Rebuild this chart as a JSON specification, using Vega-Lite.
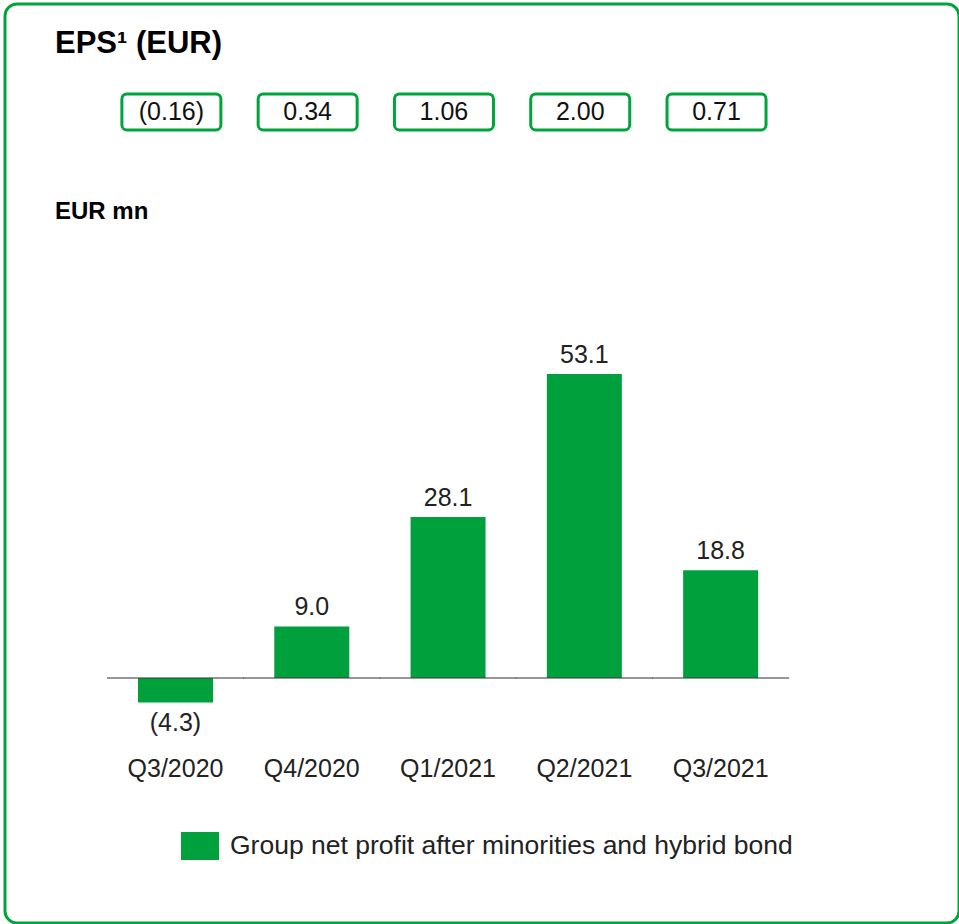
{
  "$schema": "https://vega.github.io/schema/vega-lite/v6.json",
  "autosize": {"type": "fit", "contains": "padding"},
  "width": 959,
  "height": 924,
  "padding": {"left": 5, "top": 4, "right": 0, "bottom": 1},
  "background": "white",
  "title": {
    "text": "EPS¹ (EUR)",
    "subtitle": "EUR mn",
    "anchor": "start",
    "frame": "group",
    "offset": -221,
    "dx": 50,
    "fontSize": 31,
    "fontWeight": "bold",
    "font": "Liberation Sans",
    "color": "#000000",
    "subtitleFont": "Liberation Sans",
    "subtitleFontSize": 24,
    "subtitleFontWeight": "bold",
    "subtitleColor": "#000000",
    "subtitlePadding": 140
  },
  "data": {
    "values": [
      {"quarter": "Q3/2020", "profit": -4.3, "eps": -0.16},
      {"quarter": "Q4/2020", "profit": 9.0, "eps": 0.34},
      {"quarter": "Q1/2021", "profit": 28.1, "eps": 1.06},
      {"quarter": "Q2/2021", "profit": 53.1, "eps": 2.00},
      {"quarter": "Q3/2021", "profit": 18.8, "eps": 0.71}
    ]
  },
  "config": {
    "view": {"stroke": "#00A33C", "strokeWidth": 3, "cornerRadius": 12},
    "font": "Liberation Sans"
  },
  "resolve": {"scale": {"x": "independent"}},
  "layer": [
    {
      "layer": [
        {
          "mark": {"type": "bar", "width": 75},
          "encoding": {
            "x": {
              "field": "quarter",
              "type": "ordinal",
              "sort": null,
              "scale": {"paddingInner": 0, "paddingOuter": 1, "align": 0.3755},
              "axis": {
                "title": null,
                "orient": "bottom",
                "offset": -168,
                "domain": false,
                "ticks": false,
                "labelPadding": 1,
                "labelFontSize": 25,
                "labelColor": "#222222",
                "grid": false,
                "labelAngle": 0
              }
            },
            "y": {
              "field": "profit",
              "type": "quantitative",
              "scale": {"domain": [-42.8, 117.7], "nice": false, "zero": false},
              "axis": null
            },
            "color": {
              "datum": "Group net profit after minorities and hybrid bond",
              "scale": {"range": ["#00A03C"]},
              "legend": {
                "orient": "none",
                "legendX": 176,
                "legendY": 823,
                "title": null,
                "padding": 0,
                "direction": "horizontal",
                "symbolType": "M-1,-0.737L1,-0.737L1,0.737L-1,0.737Z",
                "symbolSize": 1444,
                "symbolStrokeWidth": 0,
                "labelFontSize": 26.5,
                "labelColor": "#222222",
                "labelOffset": 11,
                "labelLimit": 800
              }
            }
          }
        },
        {
          "mark": {"type": "tick", "size": 137, "thickness": 1.6, "color": "#3a3a3a"},
          "encoding": {
            "x": {"field": "quarter", "type": "ordinal", "sort": null},
            "y": {"datum": 0, "type": "quantitative", "axis": null}
          }
        },
        {
          "transform": [{"filter": "datum.profit >= 0"}],
          "mark": {"type": "text", "fontSize": 25, "color": "#222222", "baseline": "alphabetic", "dy": -11},
          "encoding": {
            "x": {"field": "quarter", "type": "ordinal", "sort": null},
            "y": {"field": "profit", "type": "quantitative", "axis": null},
            "text": {"field": "profit", "type": "quantitative", "format": "(.1f"}
          }
        },
        {
          "transform": [{"filter": "datum.profit < 0"}],
          "mark": {"type": "text", "fontSize": 25, "color": "#222222", "baseline": "top", "dy": 8},
          "encoding": {
            "x": {"field": "quarter", "type": "ordinal", "sort": null},
            "y": {"field": "profit", "type": "quantitative", "axis": null},
            "text": {"field": "profit", "type": "quantitative", "format": "(.1f"}
          }
        }
      ]
    },
    {
      "layer": [
        {
          "mark": {"type": "bar", "width": 99, "fill": "white", "stroke": "#00A33C", "strokeWidth": 3, "cornerRadius": 5},
          "encoding": {
            "x": {
              "field": "quarter",
              "type": "ordinal",
              "sort": null,
              "scale": {"paddingInner": 0, "paddingOuter": 1, "align": 0.3604},
              "axis": null
            },
            "y": {"datum": 102.0, "type": "quantitative", "axis": null},
            "y2": {"datum": 95.7}
          }
        },
        {
          "mark": {"type": "text", "fontSize": 25, "color": "#111111", "baseline": "middle"},
          "encoding": {
            "x": {"field": "quarter", "type": "ordinal", "sort": null},
            "y": {"datum": 98.9, "type": "quantitative", "axis": null},
            "text": {"field": "eps", "type": "quantitative", "format": "(.2f"}
          }
        }
      ]
    }
  ]
}
